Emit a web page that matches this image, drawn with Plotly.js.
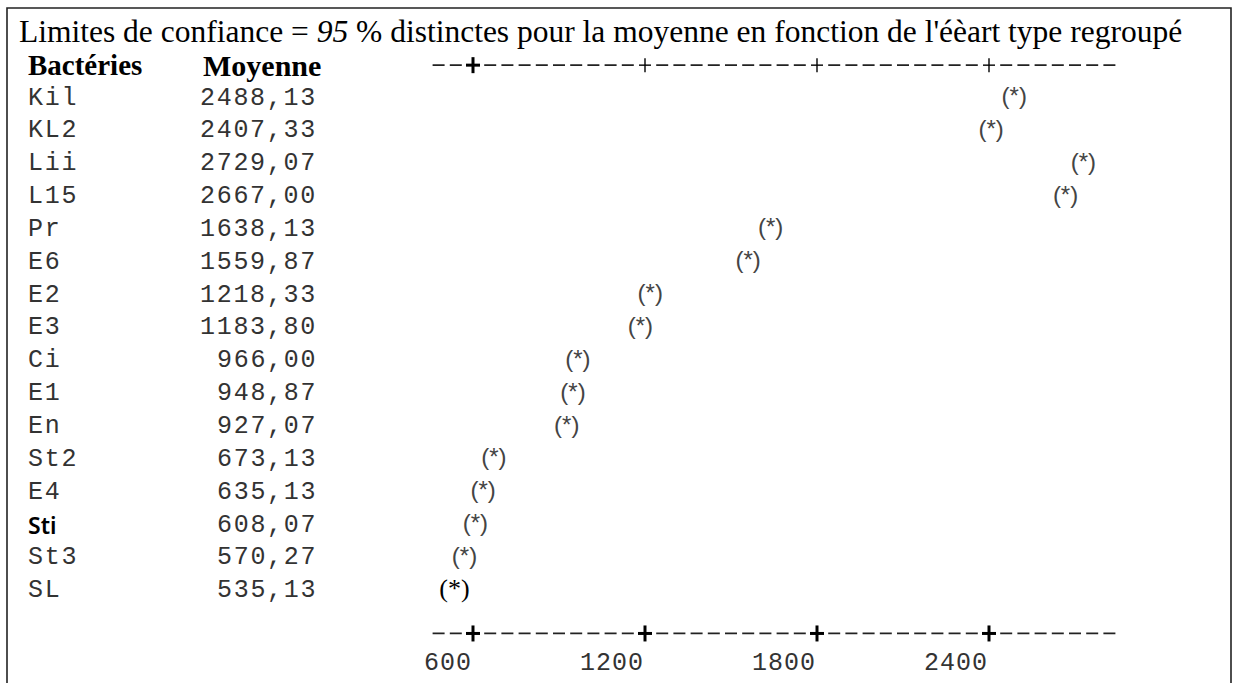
<!DOCTYPE html>
<html>
<head>
<meta charset="utf-8">
<script src="https://cdn.plot.ly/plotly-3.0.1.min.js"></script>
<style>
  html, body { margin: 0; padding: 0; background: #ffffff; }
  #chart { width: 1237px; height: 683px; }
</style>
</head>
<body>
<div id="chart"></div>
<script>
// ---------- data ----------
const bacteries = ["Kil", "KL2", "Lii", "L15", "Pr", "E6", "E2", "E3", "Ci", "E1", "En", "St2", "E4", "Sti", "St3", "SL"];
const moyennes = [2488.13, 2407.33, 2729.07, 2667.00, 1638.13, 1559.87, 1218.33, 1183.80, 966.00, 948.87, 927.07, 673.13, 635.13, 608.07, 570.27, 535.13];
const tickVals = [600, 1200, 1800, 2400];
const tickText = ["600", "1200", "1800", "2400"];
const titleText = "Limites de confiance = <i>95</i> % distinctes pour la moyenne en fonction de l'éèart type regroupé";
const headerBact = "Bactéries";
const headerMoy = "Moyenne";

// ---------- geometry ----------
const W = 1237, H = 683;
const plotLeftPx = 430, plotRightPx = 1118;      // where the text axis starts / ends
const cell = (tickVals[1] - tickVals[0]) / 10;    // one text "character" of the axis
const axisStart = tickVals[0] - 2.5 * cell;
const axisEnd = tickVals[tickVals.length - 1] + 7.5 * cell;
const pxPerUnit = (plotRightPx - plotLeftPx) / (axisEnd - axisStart);
const xMin = axisStart - plotLeftPx / pxPerUnit;
const xMax = axisStart + (W - plotLeftPx) / pxPerUnit;

const row0Px = 98, rowPx = 32.85;
const yTop = -row0Px / rowPx;
const yBottom = (H - row0Px) / rowPx;
const topAxisRow = -1, bottomAxisRow = 16.3, tickLabelRow = 17.2, headerRow = -1;

const mono = "Liberation Mono, DejaVu Sans Mono, monospace";
const serif = "Liberation Serif, Times New Roman, serif";
const sans = "Liberation Sans, Arial, sans-serif";
const ls = (t, sp) => '<span style="letter-spacing:' + sp + 'px">' + t + '</span>';
const fmt = v => v.toFixed(2).replace('.', ',');
const monoSize = 25, monoColor = '#333';

// ---------- annotations ----------
const annotations = [];
annotations.push({xref: 'paper', x: 26 / W, xanchor: 'left', yref: 'y', y: headerRow, yanchor: 'middle',
  text: '<b>' + headerBact + '</b>', showarrow: false, font: {family: serif, size: 29, color: '#000'}});
annotations.push({xref: 'paper', x: 201 / W, xanchor: 'left', yref: 'y', y: headerRow, yanchor: 'middle',
  text: '<b>' + headerMoy + '</b>', showarrow: false, font: {family: serif, size: 30, color: '#000'}});

bacteries.forEach((b, i) => {
  const special = (b === 'Sti');
  annotations.push({xref: 'paper', x: 26 / W, xanchor: 'left', yref: 'y', y: b, yanchor: 'middle',
    text: special ? b : ls(b, 1.7), showarrow: false,
    font: special ? {family: 'Noto Sans, sans-serif', size: 23, color: '#000', weight: 600}
                  : {family: mono, size: monoSize, color: monoColor}});
  annotations.push({xref: 'paper', x: 319 / W, xanchor: 'right', yref: 'y', y: b, yanchor: 'middle',
    text: ls(fmt(moyennes[i]), 1.7), showarrow: false, font: {family: mono, size: monoSize, color: monoColor}});
});

tickVals.forEach((t, i) => {
  annotations.push({xref: 'x', x: t, xanchor: 'right', xshift: 1, yref: 'y', y: tickLabelRow, yanchor: 'middle',
    text: ls(tickText[i], 1), showarrow: false, font: {family: mono, size: monoSize, color: monoColor}});
});

// ---------- shapes: the text-like axes ----------
const shapes = [];
// frame
shapes.push({type: 'rect', xref: 'paper', yref: 'paper', x0: 7 / W, x1: 1231 / W, y0: -0.2, y1: 1 - 8 / H,
  line: {color: '#222', width: 1.6}, fillcolor: 'rgba(0,0,0,0)'});

const gapOffset = 2.6 / pxPerUnit;
function dashedAxis(row) {
  const segs = [[axisStart, tickVals[0] - cell / 2]];
  for (let i = 0; i < tickVals.length - 1; i++) segs.push([tickVals[i] + cell / 2, tickVals[i + 1] - cell / 2]);
  segs.push([tickVals[tickVals.length - 1] + cell / 2, axisEnd]);
  segs.forEach(s => shapes.push({type: 'line', xref: 'x', yref: 'y', x0: s[0] + gapOffset, x1: s[1], y0: row, y1: row,
    line: {color: '#222', width: 1.7, dash: '12px,5.2px'}}));
}
function plus(xv, row, half, w) {
  shapes.push({type: 'line', xref: 'x', xsizemode: 'pixel', xanchor: xv, x0: -half, x1: half, yref: 'y', y0: row, y1: row,
    line: {color: '#000', width: w}});
  shapes.push({type: 'line', xref: 'x', x0: xv, x1: xv, yref: 'y', ysizemode: 'pixel', yanchor: row, y0: -half - 1, y1: half + 1,
    line: {color: '#000', width: w}});
}
dashedAxis(topAxisRow);
dashedAxis(bottomAxisRow);
tickVals.forEach((t, i) => {
  if (i === 0) plus(t, topAxisRow, 7, 3); else plus(t, topAxisRow, 6, 1.4);
  plus(t, bottomAxisRow, 7, 3);
});

// ---------- trace ----------
const markerFamily = bacteries.map(b => b === 'SL' ? serif : sans);
const markerSize = bacteries.map(b => b === 'SL' ? 26 : 24);
const markerColor = bacteries.map(b => b === 'SL' ? '#000' : '#444');

const trace = {
  type: 'scatter', mode: 'text',
  x: moyennes, y: bacteries,
  text: bacteries.map(() => '(*)'),
  textposition: 'middle center',
  textfont: {family: markerFamily, size: markerSize, color: markerColor},
  hoverinfo: 'skip', showlegend: false, cliponaxis: false
};

const layout = {
  width: W, height: H,
  margin: {l: 0, r: 0, t: 0, b: 0, pad: 0},
  paper_bgcolor: '#ffffff', plot_bgcolor: '#ffffff',
  title: {text: titleText, xref: 'paper', yref: 'paper', x: 19 / W, xanchor: 'left', y: 1 - 31 / H, yanchor: 'middle',
    font: {family: serif, size: 31.5, color: '#000'}},
  xaxis: {range: [xMin, xMax], showgrid: false, zeroline: false, showline: false, showticklabels: false, ticks: '', fixedrange: true},
  yaxis: {type: 'category', categoryorder: 'array', categoryarray: bacteries, range: [yBottom, yTop],
    showgrid: false, zeroline: false, showline: false, showticklabels: false, ticks: '', fixedrange: true},
  annotations: annotations,
  shapes: shapes,
  showlegend: false
};

Plotly.newPlot('chart', [trace], layout, {displayModeBar: false, staticPlot: true});
</script>
</body>
</html>
